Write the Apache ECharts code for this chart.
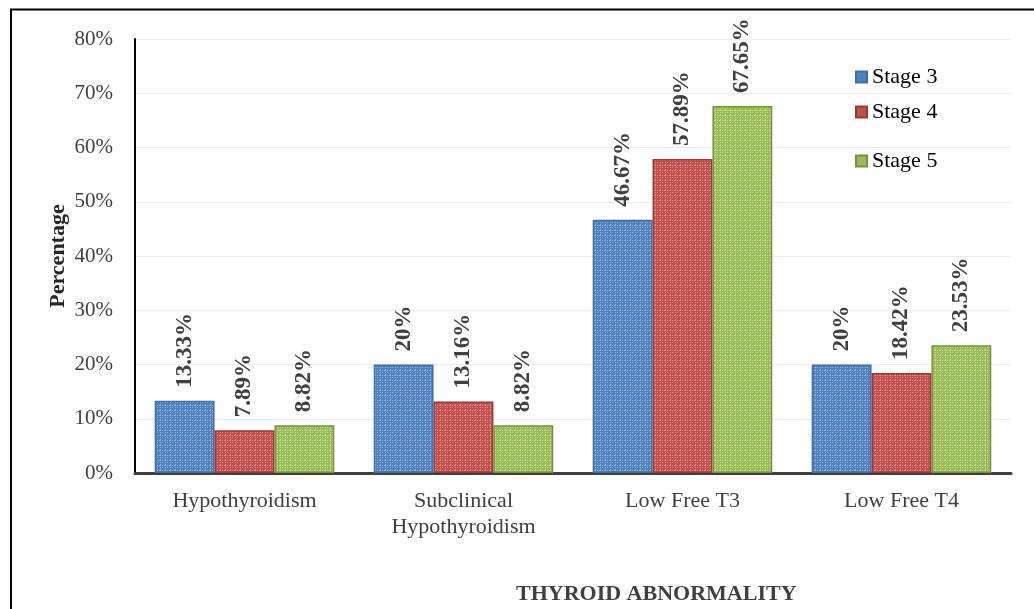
<!DOCTYPE html>
<html>
<head>
<meta charset="utf-8">
<script src="https://cdn.jsdelivr.net/npm/echarts@6/dist/echarts.min.js"></script>
<style>html,body{margin:0;padding:0;background:#fff}#c{width:1034px;height:609px}</style>
</head>
<body>
<div id="c"></div>
<script>
const categories = ['Hypothyroidism', 'Subclinical\nHypothyroidism', 'Low Free T3', 'Low Free T4'];
const stage3 = [13.33, 20, 46.67, 20];
const stage4 = [7.89, 13.16, 57.89, 18.42];
const stage5 = [8.82, 8.82, 67.65, 23.53];
const labels3 = ['13.33%', '20%', '46.67%', '20%'];
const labels4 = ['7.89%', '13.16%', '57.89%', '18.42%'];
const labels5 = ['8.82%', '8.82%', '67.65%', '23.53%'];
const yTicks = [0, 10, 20, 30, 40, 50, 60, 70, 80];

function pattern(base, light) {
  const c = document.createElement('canvas');
  c.width = 5; c.height = 5;
  const g = c.getContext('2d');
  g.fillStyle = base; g.fillRect(0, 0, 5, 5);
  g.fillStyle = light;
  g.fillRect(0, 0, 1, 1); g.fillRect(2, 0, 1, 1); g.fillRect(4, 0, 1, 1);
  g.fillRect(0, 2, 1, 1); g.fillRect(0, 4, 1, 1);
  g.fillRect(2, 2, 1, 1);
  return { image: c, repeat: 'repeat' };
}

const font = 'Liberation Serif';
const chart = echarts.init(document.getElementById('c'), null, { renderer: 'canvas' });

function series(name, data, labels, base, light, border) {
  return {
    name, type: 'bar', data,
    barGap: '0%', barCategoryGap: '18%',
    itemStyle: { color: pattern(base, light), borderColor: border, borderWidth: 1.5 },
    label: {
      show: true, position: 'top', rotate: 90, align: 'left', verticalAlign: 'middle',
      distance: 13, fontFamily: font, fontWeight: 'bold', fontSize: 23, color: '#404040',
      formatter: p => labels[p.dataIndex]
    }
  };
}

function legendAt(name, top, color) {
  return {
    data: [{ name, itemStyle: { color } }], left: 855, top, itemWidth: 11, itemHeight: 11,
    icon: 'rect', textStyle: { fontFamily: font, fontSize: 22, color: '#000' }, itemGap: 0,
    padding: 0
  };
}

chart.setOption({
  animation: false,
  grid: { left: 135, right: 23, top: 39, bottom: 136 },
  legend: [
    legendAt('Stage 3', 66, '#4f81bd'),
    legendAt('Stage 4', 101, '#c0504d'),
    legendAt('Stage 5', 150, '#9bbb59')
  ],
  title: {
    text: 'THYROID ABNORMALITY', left: 511, top: 578,
    textStyle: { fontFamily: font, fontSize: 22, fontWeight: 'bold', color: '#404040' }
  },
  xAxis: {
    type: 'category', data: categories,
    axisLine: { lineStyle: { color: '#404040', width: 3 } },
    axisTick: { show: false },
    axisLabel: { fontFamily: font, fontSize: 22, color: '#404040', margin: 15, lineHeight: 26 }
  },
  yAxis: {
    type: 'value', min: yTicks[0], max: yTicks[yTicks.length - 1], interval: 10,
    name: 'Percentage', nameLocation: 'middle', nameGap: 66, nameRotate: 90, nameMoveOverlap: false,
    nameTextStyle: { fontFamily: font, fontSize: 22, fontWeight: 'bold', color: '#262626' },
    axisLine: { show: true, lineStyle: { color: '#000', width: 2 } },
    axisTick: { show: false },
    axisLabel: { fontFamily: font, fontSize: 21, color: '#404040', margin: 22, formatter: '{value}%' },
    splitLine: { lineStyle: { color: '#ececec', width: 1 } }
  },
  graphic: [
    { type: 'line', shape: { x1: 10, y1: 9.5, x2: 1034, y2: 9.5 }, style: { stroke: '#000', lineWidth: 2 } },
    { type: 'line', shape: { x1: 11, y1: 9, x2: 11, y2: 609 }, style: { stroke: '#000', lineWidth: 2 } }
  ],
  series: [
    series('Stage 3', stage3, labels3, '#4f81bd', '#8fb0da', '#3f6ea8'),
    series('Stage 4', stage4, labels4, '#c0504d', '#e08a88', '#983a38'),
    series('Stage 5', stage5, labels5, '#9bbb59', '#c3da93', '#76923c')
  ]
});
</script>
</body>
</html>
